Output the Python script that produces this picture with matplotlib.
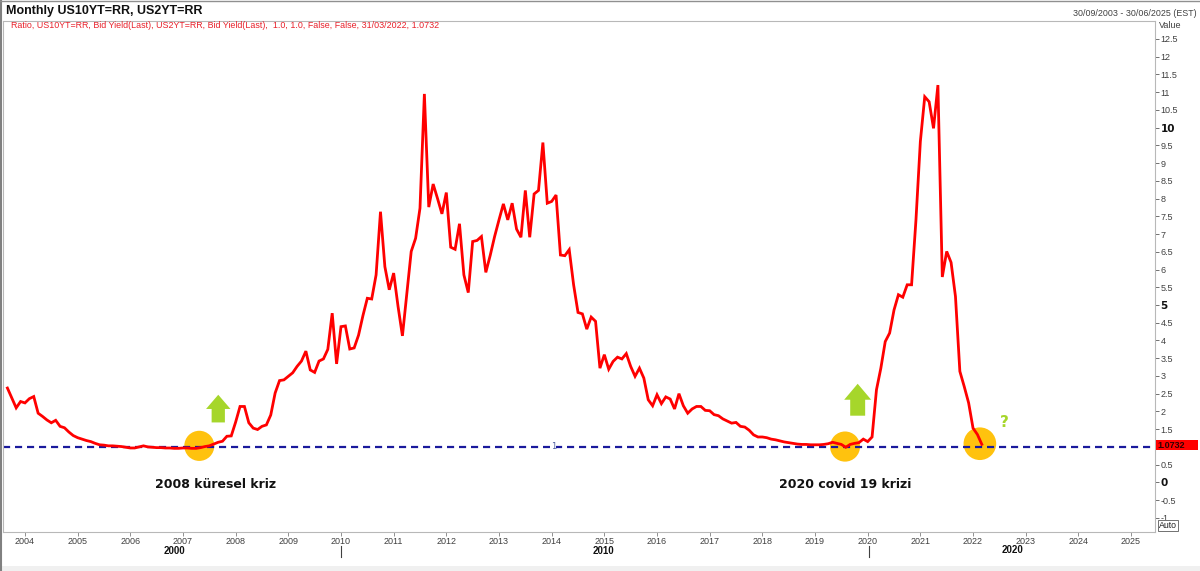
import numpy as np
import pandas as pd
import matplotlib
matplotlib.use("Agg")
import matplotlib.pyplot as plt
from matplotlib.patches import Ellipse, Polygon, Rectangle

# ---- data (monthly ratio 10Y/2Y yield, Sep 2003 .. Mar 2022) ----
start_month = "2003-09-01"
ratio_values = [
    2.66, 2.38, 2.10, 2.28, 2.24, 2.36, 2.42, 1.95, 1.86, 1.76,
    1.68, 1.75, 1.58, 1.54, 1.42, 1.32, 1.26, 1.22, 1.18, 1.15,
    1.10, 1.06, 1.05, 1.03, 1.03, 1.02, 1.01, 0.99, 0.97, 0.97,
    1.00, 1.03, 1.00, 0.99, 0.98, 0.98, 0.97, 0.97, 0.96, 0.96,
    0.97, 0.97, 0.96, 0.96, 0.98, 1.01, 1.03, 1.08, 1.13, 1.16,
    1.30, 1.31, 1.70, 2.14, 2.14, 1.68, 1.53, 1.49, 1.58, 1.62,
    1.90, 2.52, 2.87, 2.89, 2.99, 3.09, 3.27, 3.42, 3.70, 3.17,
    3.10, 3.42, 3.48, 3.75, 4.77, 3.34, 4.39, 4.41, 3.76, 3.79,
    4.15, 4.70, 5.19, 5.17, 5.85, 7.63, 6.08, 5.43, 5.90, 4.96,
    4.13, 5.33, 6.51, 6.88, 7.73, 10.95, 7.76, 8.41, 8.00, 7.57,
    8.17, 6.63, 6.57, 7.29, 5.85, 5.35, 6.79, 6.82, 6.93, 5.92,
    6.40, 6.93, 7.40, 7.85, 7.40, 7.87, 7.14, 6.91, 8.23, 6.91,
    8.13, 8.23, 9.58, 7.87, 7.92, 8.10, 6.41, 6.39, 6.56, 5.57,
    4.79, 4.75, 4.32, 4.66, 4.54, 3.22, 3.60, 3.19, 3.41, 3.53,
    3.48, 3.63, 3.27, 2.99, 3.22, 2.94, 2.33, 2.16, 2.47, 2.22,
    2.41, 2.35, 2.07, 2.50, 2.16, 1.95, 2.07, 2.14, 2.14, 2.03,
    2.02, 1.91, 1.88, 1.79, 1.73, 1.67, 1.69, 1.58, 1.56, 1.47,
    1.34, 1.28, 1.28, 1.26, 1.22, 1.20, 1.17, 1.14, 1.12, 1.10,
    1.08, 1.07, 1.07, 1.06, 1.06, 1.06, 1.07, 1.09, 1.13, 1.10,
    1.07, 0.99, 1.07, 1.10, 1.12, 1.22, 1.15, 1.28, 2.61, 3.22,
    3.97, 4.21, 4.86, 5.29, 5.22, 5.57, 5.57, 7.40, 9.61, 10.87,
    10.73, 9.98, 11.20, 5.79, 6.51, 6.20, 5.24, 3.13, 2.70, 2.24,
    1.53, 1.35, 1.0732,
]
last_value = 1.0732
ref_level = 1.0
year_ticks = list(range(2004, 2026))
y_ticks = [v / 2 for v in range(-2, 26)]
bold_y = [0, 5, 10]
decade_labels = ["2000", "2010", "2020"]
ann_labels = ["2008 küresel kriz", "2020 covid 19 krizi"]

dates = pd.date_range(start_month, periods=len(ratio_values), freq="MS")
t = dates.year + (dates.month - 1) / 12.0

# ---- figure ----
W, H = 1200, 571
fig = plt.figure(figsize=(W / 100, H / 100), dpi=100)
fig.patch.set_facecolor("white")

def fx(px):
    return px / W

def fy(py):
    return 1 - py / H

ax = fig.add_axes([fx(3), fy(531.7), fx(1155) - fx(3), fy(20.5) - fy(531.7)])
ax.set_xlim(2003.583, 2025.455)
ax.set_ylim(-1.39, 13.02)

# annotation circles (beneath lines)
circ_col = "#FFC20E"
for (cx, cy, w, h) in [(2007.31, 1.03, 0.57, 0.85), (2019.57, 1.01, 0.57, 0.85),
                       (2022.13, 1.09, 0.62, 0.92)]:
    ax.add_patch(Ellipse((cx, cy), w, h, facecolor=circ_col, edgecolor="none", zorder=1))

# reference dashed line
ax.axhline(ref_level, color="#1a1a9c", lw=1.6, ls=(0, (3.2, 2.2)), zorder=2)
ax.text(2014.03, ref_level, "1", fontsize=6, color="#5060a0", ha="center", va="center",
        zorder=3, bbox=dict(facecolor="white", edgecolor="none", pad=0.3))

# main series
ax.plot(t, ratio_values, color="#ff0000", lw=2.0, zorder=4, solid_joinstyle="miter")

# green arrows
arrow_col = "#A6D62B"
def up_arrow(xc, ytip, yhead, ybot, hw, sw):
    pts = [(xc, ytip), (xc + hw, yhead), (xc + sw, yhead), (xc + sw, ybot),
           (xc - sw, ybot), (xc - sw, yhead), (xc - hw, yhead)]
    ax.add_patch(Polygon(pts, closed=True, facecolor=arrow_col, edgecolor="none", zorder=3))

up_arrow(2007.67, 2.47, 2.07, 1.69, 0.232, 0.126)
up_arrow(2019.81, 2.78, 2.33, 1.88, 0.256, 0.142)
ax.text(2022.59, 1.69, "?", color=arrow_col, fontsize=11, fontweight="bold",
        ha="center", va="center", family="DejaVu Sans", zorder=5)

ax.text(2007.62, -0.05, ann_labels[0], fontsize=9, fontweight="bold", color="#111111",
        ha="center", va="center", family="DejaVu Sans")
ax.text(2019.58, -0.05, ann_labels[1], fontsize=9, fontweight="bold", color="#111111",
        ha="center", va="center", family="DejaVu Sans")

# ---- axes styling ----
for s in ["top", "bottom", "left", "right"]:
    ax.spines[s].set_color("#b8b8b8")
    ax.spines[s].set_linewidth(0.8)
ax.yaxis.tick_right()
ax.set_yticks(y_ticks)
ax.set_yticklabels([("%g" % v) for v in y_ticks])
ax.tick_params(axis="y", which="major", length=3, width=0.7, color="#707070",
               labelsize=6.5, labelcolor="#404040", pad=1)
for lab, v in zip(ax.get_yticklabels(), y_ticks):
    if v in bold_y:
        lab.set_fontweight("bold")
        lab.set_color("#111111")
        lab.set_fontsize(7.5)
    if v == 1.0:
        lab.set_visible(False)

ax.set_xticks(year_ticks)
ax.set_xticklabels([str(y) for y in year_ticks])
ax.tick_params(axis="x", which="major", length=3, width=0.7, color="#909090",
               labelsize=6.5, labelcolor="#404040", pad=0.5)

for lab in ax.get_xticklabels() + ax.get_yticklabels():
    if lab.get_fontweight() != "bold":
        lab.set_family("Liberation Sans")

# last value tag
fig.add_artist(Rectangle((fx(1155.5), fy(449.5)), fx(1198) - fx(1155.5), fy(440) - fy(449.5),
                         facecolor="#ff0000", edgecolor="none", zorder=5))
fig.text(fx(1157), fy(445), "%.4f" % last_value, fontsize=6.5, color="#300000",
         family="Liberation Sans", fontweight="bold", ha="left", va="center", zorder=6)

# decade row
fig.text(fx(174), fy(551), decade_labels[0], fontsize=7, fontweight="bold",
         family="Liberation Sans", ha="center", va="center", color="#111111")
fig.text(fx(603), fy(551), decade_labels[1], fontsize=7, fontweight="bold",
         family="Liberation Sans", ha="center", va="center", color="#111111")
fig.text(fx(1012), fy(550), decade_labels[2], fontsize=7, fontweight="bold",
         family="Liberation Sans", ha="center", va="center", color="#111111")
for px in (341.3, 869):
    fig.add_artist(plt.Line2D([fx(px), fx(px)], [fy(546), fy(557)], color="#404040", lw=0.8))

# header texts
fig.text(fx(6), fy(11), "Monthly US10YT=RR, US2YT=RR", fontsize=9, fontweight="bold",
         family="Liberation Sans", ha="left", va="center", color="#111111")
fig.text(fx(11), fy(26), "Ratio, US10YT=RR, Bid Yield(Last), US2YT=RR, Bid Yield(Last),  1.0, 1.0, "
         "False, False, 31/03/2022, 1.0732", fontsize=6.4, family="Liberation Sans",
         ha="left", va="center", color="#e8202a")
fig.text(fx(1197), fy(13), "30/09/2003 - 30/06/2025 (EST)", fontsize=6.4,
         family="Liberation Sans", ha="right", va="center", color="#404040")
fig.text(fx(1159), fy(25), "Value", fontsize=6.5, family="Liberation Sans",
         ha="left", va="center", color="#404040")
fig.text(fx(1168), fy(525.5), "Auto", fontsize=6.3, family="Liberation Sans",
         ha="center", va="center", color="#222222",
         bbox=dict(boxstyle="square,pad=0.15", facecolor="white", edgecolor="#707070", lw=0.7))

# outer frame / bottom strip
fig.add_artist(Rectangle((0, 0), 1, fy(566), facecolor="#f0f0f0", edgecolor="none", zorder=0))
fig.add_artist(plt.Line2D([fx(1), fx(1)], [0, 1], color="#808080", lw=1.5))
fig.add_artist(plt.Line2D([0, 1], [fy(0.5), fy(0.5)], color="#909090", lw=1.0))

fig.savefig("out.png", dpi=100, facecolor=fig.get_facecolor())
